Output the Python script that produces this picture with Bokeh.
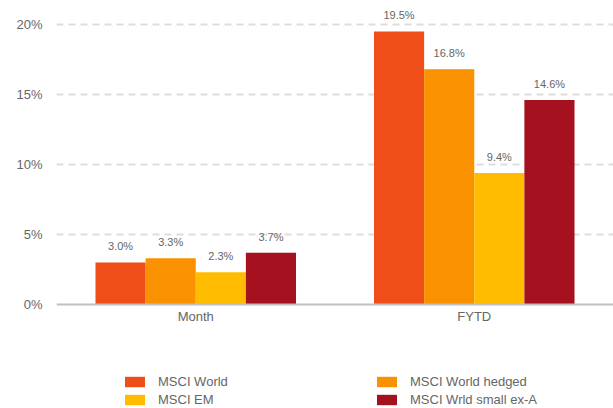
from bokeh.plotting import figure
from bokeh.models import (ColumnDataSource, FactorRange, Range1d, FixedTicker,
                          PrintfTickFormatter, LabelSet, Legend, LegendItem)
from bokeh.core.properties import value
from bokeh.transform import dodge
from bokeh.embed import file_html
from bokeh.resources import INLINE

categories = ["Month", "FYTD"]
series_names = ["MSCI World", "MSCI World hedged", "MSCI EM", "MSCI Wrld small ex-A"]
msci_world = [3.0, 19.5]
msci_world_hedged = [3.3, 16.8]
msci_em = [2.3, 9.4]
msci_small_ex_a = [3.7, 14.6]
y_ticks = [0, 5, 10, 15, 20]

colors = ["#F04E19", "#FA9100", "#FFBC00", "#A5111E"]
keys = ["w", "wh", "em", "sm"]
values = [msci_world, msci_world_hedged, msci_em, msci_small_ex_a]

data = {"cat": categories}
for k, v in zip(keys, values):
    data[k] = v
    data[k + "_lbl"] = ["%.1f%%" % x for x in v]
source = ColumnDataSource(data)

FONT = "Liberation Sans"
TXT = "#666666"

p = figure(x_range=FactorRange(*categories, range_padding=0),
           y_range=Range1d(-7.429, 21.714),
           width=613, height=408, output_backend="svg", toolbar_location=None,
           min_border_left=56, min_border_right=0, min_border_top=0,
           min_border_bottom=0)
p.outline_line_color = None
p.background_fill_color = "white"
p.border_fill_color = "white"

offsets = [-0.27, -0.09, 0.09, 0.27]
renderers = []
for k, c, off in zip(keys, colors, offsets):
    r = p.vbar(x=dodge("cat", off, range=p.x_range), top=k, bottom=0, width=0.18,
               source=source, fill_color=c, line_color=None)
    renderers.append(r)
    lbl = LabelSet(x=dodge("cat", off, range=p.x_range), y=k, text=k + "_lbl",
                   source=source, text_align="center", text_baseline="alphabetic",
                   y_offset=12, text_font=value(FONT), text_font_size=value("11px"),
                   text_color=TXT)
    p.add_layout(lbl)

p.xgrid.grid_line_color = None
p.ygrid.ticker = FixedTicker(ticks=y_ticks[1:])
p.ygrid.grid_line_color = "#dddddd"
p.ygrid.grid_line_width = 2
p.ygrid.grid_line_dash = "7 5"
p.yaxis.ticker = FixedTicker(ticks=y_ticks)
p.yaxis.formatter = PrintfTickFormatter(format="%d%%")
p.yaxis.axis_line_color = None
p.yaxis.major_tick_line_color = None
p.yaxis.minor_tick_line_color = None
p.yaxis.major_tick_out = 0
p.yaxis.major_label_standoff = 14
p.yaxis.major_label_text_font = FONT
p.yaxis.major_label_text_font_size = "13px"
p.yaxis.major_label_text_color = TXT

p.xaxis.fixed_location = 0
p.xaxis.axis_line_color = "#c0c0c0"
p.xaxis.axis_line_width = 2
p.xaxis.major_tick_line_color = None
p.xaxis.minor_tick_line_color = None
p.xaxis.major_tick_out = 0
p.xaxis.major_label_standoff = 5
p.xaxis.major_label_text_font = FONT
p.xaxis.major_label_text_font_size = "13px"
p.xaxis.major_label_text_color = TXT

items = [LegendItem(label=n, renderers=[r]) for n, r in zip(series_names, renderers)]
legend = Legend(items=items, location=(66, 1), orientation="horizontal", ncols=2,
                glyph_width=25, glyph_height=13, label_standoff=11,
                label_width=213, label_height=13, spacing=3, padding=0, margin=0,
                label_text_font=FONT, label_text_font_size="13px",
                label_text_color=TXT, border_line_color=None,
                background_fill_alpha=0)
p.add_layout(legend, "center")

open("out.html", "w").write(file_html(p, INLINE))
